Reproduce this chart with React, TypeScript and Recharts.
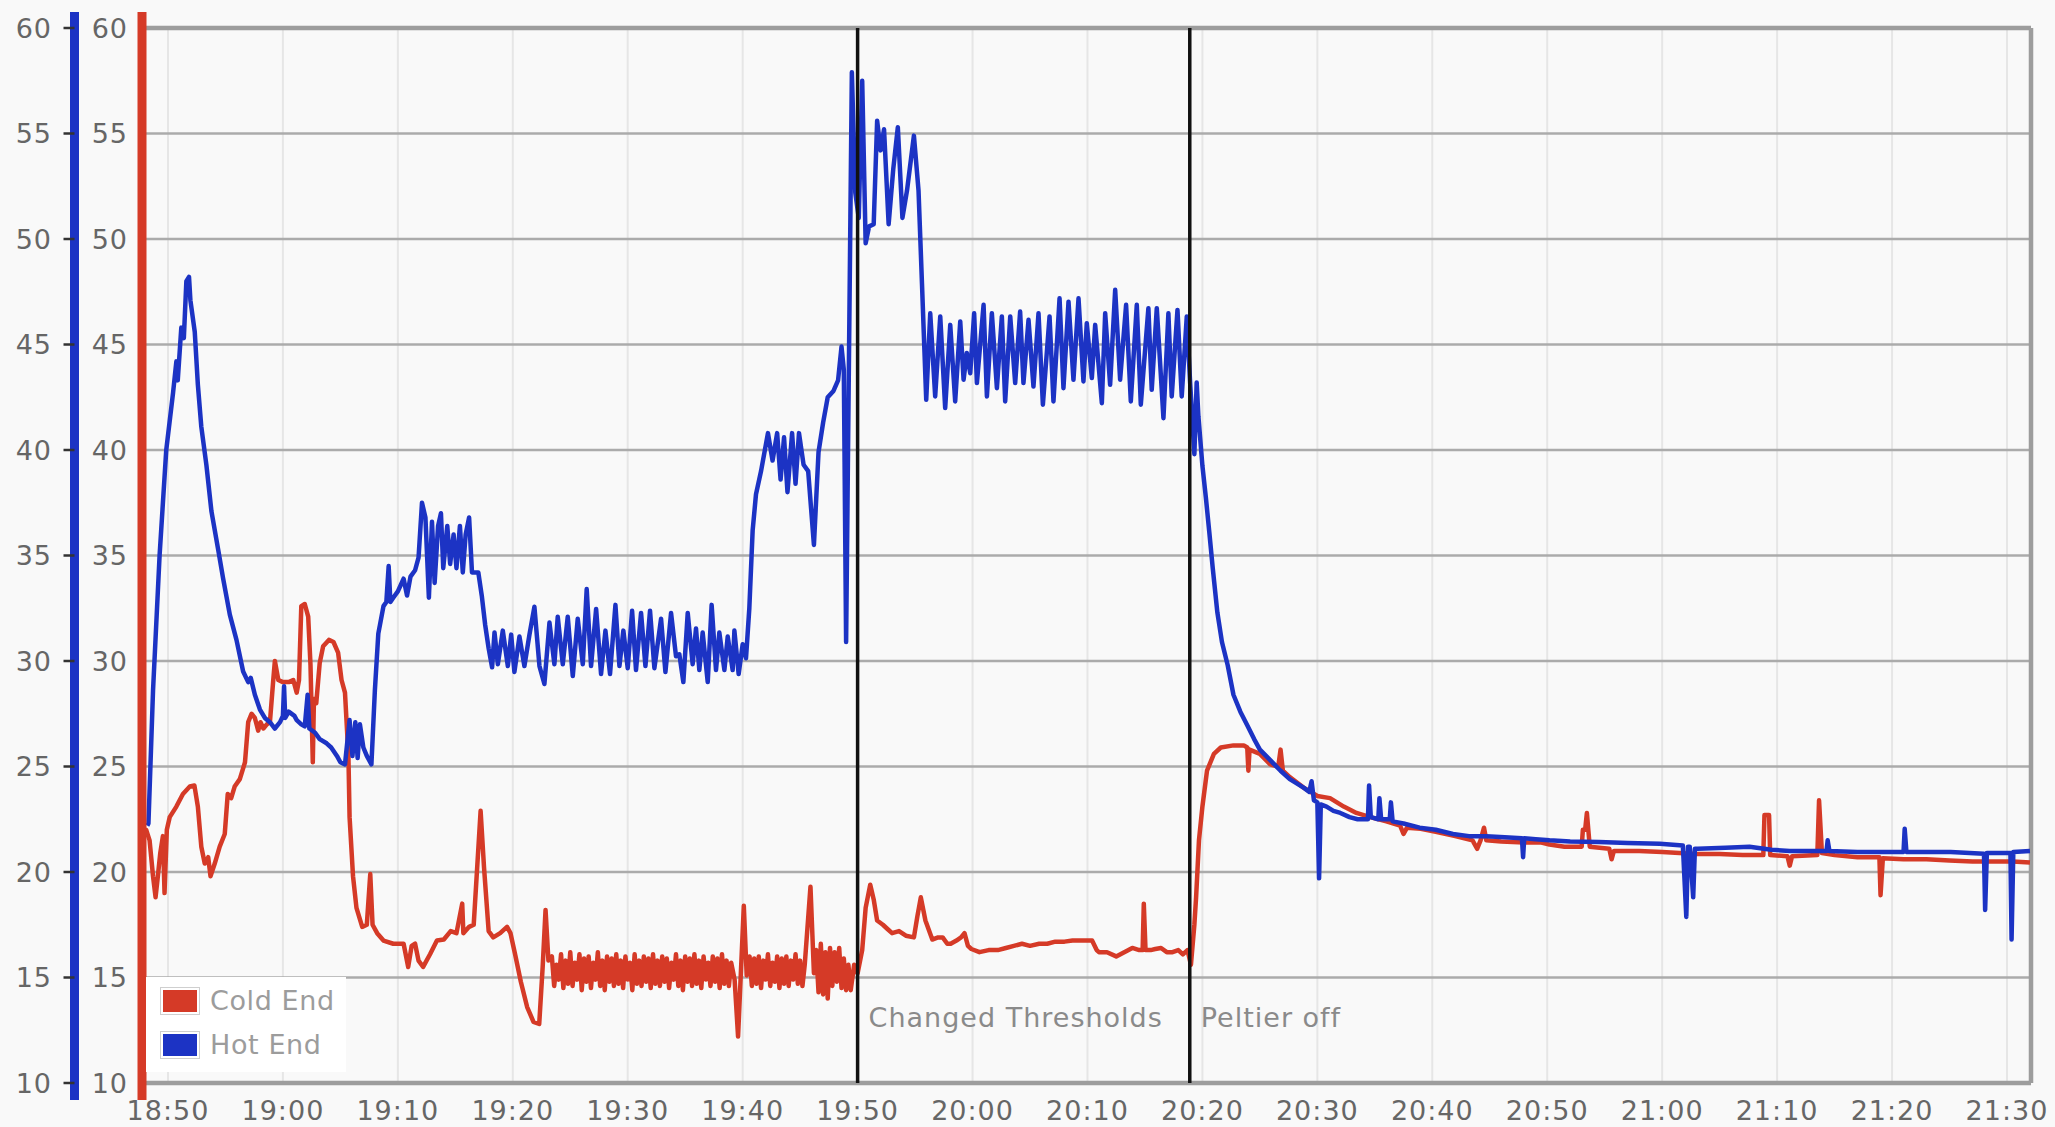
import React from 'react';
import { LineChart, Line, XAxis, YAxis, ReferenceLine, Legend } from 'recharts';

if (typeof document !== 'undefined') {
  document.body.style.margin = '0';
  document.body.style.background = '#f9f9f9';
  document.body.style.overflow = 'hidden';
}

// ---- data (time = minutes after 18:50, value in °C) ----
const START_LABEL = '18:50';

const xTickLabels = ['18:50', '19:00', '19:10', '19:20', '19:30', '19:40', '19:50', '20:00', '20:10', '20:20', '20:30', '20:40', '20:50', '21:00', '21:10', '21:20', '21:30'];
const yTicks = [10, 15, 20, 25, 30, 35, 40, 45, 50, 55, 60];

const seriesNames = ['Cold End', 'Hot End'];

const coldEnd: [number, number][] = [
  [-2.0, 21.8], [-1.9, 22.0], [-1.6, 21.5], [-1.3, 19.8], [-1.08, 18.8], [-0.88, 19.8], [-0.67, 20.9], [-0.44, 21.7], [-0.3, 19.0], [-0.1, 22.0],
  [0.15, 22.6], [0.73, 23.1], [1.3, 23.7], [1.9, 24.05], [2.3, 24.1], [2.6, 23.1], [2.9, 21.2], [3.2, 20.4], [3.5, 20.7], [3.7, 19.8],
  [4.07, 20.4], [4.5, 21.2], [4.94, 21.8], [5.2, 23.7], [5.5, 23.5], [5.8, 24.05], [6.25, 24.4], [6.7, 25.2], [6.98, 27.1], [7.27, 27.5],
  [7.56, 27.3], [7.85, 26.7], [8.05, 27.1], [8.3, 26.8], [8.6, 27.0], [8.87, 27.1], [9.16, 29.1], [9.3, 30.0], [9.6, 29.1], [10.0, 29.0],
  [10.5, 29.0], [10.9, 29.1], [11.2, 28.5], [11.4, 29.1], [11.6, 32.6], [11.9, 32.7], [12.2, 32.1], [12.4, 29.8], [12.6, 25.2], [12.7, 28.2],
  [12.9, 28.0], [13.2, 29.9], [13.5, 30.7], [14.0, 31.0], [14.4, 30.9], [14.8, 30.4], [15.1, 29.1], [15.4, 28.5], [15.7, 25.5], [15.8, 22.6],
  [16.1, 19.8], [16.4, 18.3], [16.9, 17.4], [17.3, 17.5], [17.6, 19.9], [17.8, 17.5], [18.2, 17.1], [18.75, 16.75], [19.6, 16.6], [20.5, 16.6],
  [20.9, 15.5], [21.2, 16.5], [21.5, 16.6], [21.8, 15.8], [22.2, 15.5], [22.8, 16.1], [23.4, 16.75], [24.0, 16.8], [24.6, 17.2], [25.1, 17.1],
  [25.6, 18.5], [25.7, 17.1], [26.2, 17.4], [26.6, 17.5], [26.9, 20.2], [27.2, 22.9], [27.5, 20.2], [27.9, 17.2], [28.3, 16.9], [28.9, 17.1],
  [29.5, 17.4], [29.8, 17.1], [30.2, 16.1], [30.7, 14.8], [31.25, 13.6], [31.8, 12.9], [32.3, 12.8], [32.6, 15.5], [32.85, 18.2], [33.1, 15.8],
  [33.4, 16.0], [33.6, 14.6], [33.8, 15.6], [34.0, 14.9], [34.2, 16.1], [34.4, 14.5], [34.6, 15.8], [34.8, 14.7], [35.0, 16.2], [35.2, 14.6],
  [35.4, 15.7], [35.6, 14.9], [35.8, 16.1], [36.0, 14.4], [36.2, 15.9], [36.4, 14.8], [36.6, 16.0], [36.8, 14.5], [37.0, 15.7], [37.2, 14.9],
  [37.4, 16.2], [37.6, 14.6], [37.8, 15.8], [38.0, 14.4], [38.2, 16.0], [38.4, 14.8], [38.6, 15.9], [38.8, 14.6], [39.0, 16.1], [39.2, 14.7],
  [39.4, 15.8], [39.6, 14.5], [39.8, 16.0], [40.0, 14.9], [40.2, 15.7], [40.4, 14.4], [40.6, 16.1], [40.8, 14.7], [41.0, 15.8], [41.2, 14.6],
  [41.4, 16.0], [41.6, 14.8], [41.8, 15.9], [42.0, 14.5], [42.2, 16.1], [42.4, 14.7], [42.6, 15.8], [42.8, 14.6], [43.0, 16.0], [43.2, 14.8],
  [43.4, 15.9], [43.6, 14.5], [43.8, 15.7], [44.0, 14.9], [44.2, 16.1], [44.4, 14.6], [44.6, 15.8], [44.8, 14.4], [45.0, 16.0], [45.2, 14.8],
  [45.4, 15.9], [45.6, 14.6], [45.8, 16.1], [46.0, 14.7], [46.2, 15.8], [46.4, 14.5], [46.6, 16.0], [46.8, 14.9], [47.0, 15.7], [47.2, 14.6],
  [47.4, 16.0], [47.6, 14.8], [47.8, 15.9], [48.0, 14.5], [48.2, 16.1], [48.4, 14.7], [48.6, 15.8], [48.8, 14.6], [49.0, 15.7], [49.3, 14.9],
  [49.6, 12.2], [50.1, 18.4], [50.35, 15.1], [50.6, 16.0], [50.8, 14.6], [51.0, 15.9], [51.2, 14.7], [51.4, 16.0], [51.6, 14.5], [51.8, 15.8],
  [52.0, 14.9], [52.2, 16.1], [52.4, 14.6], [52.6, 15.7], [52.8, 14.8], [53.0, 16.0], [53.2, 14.5], [53.4, 15.9], [53.6, 14.7], [53.8, 16.0],
  [54.0, 14.6], [54.2, 15.8], [54.4, 14.9], [54.6, 16.1], [54.8, 14.7], [55.0, 15.8], [55.2, 14.6], [55.4, 15.6], [55.9, 19.3], [56.2, 15.2],
  [56.4, 16.3], [56.6, 14.3], [56.8, 16.6], [57.0, 14.2], [57.2, 16.2], [57.4, 14.0], [57.6, 16.4], [57.8, 14.6], [58.0, 16.2], [58.2, 14.8],
  [58.4, 16.4], [58.6, 14.5], [58.8, 15.9], [59.0, 14.4], [59.2, 15.6], [59.4, 14.4], [59.7, 15.6], [60.0, 15.2], [60.4, 16.3], [60.7, 18.3],
  [61.1, 19.4], [61.4, 18.7], [61.7, 17.7], [62.2, 17.5], [62.6, 17.3], [63.0, 17.1], [63.6, 17.2], [64.2, 16.98], [64.9, 16.9], [65.2, 17.9],
  [65.5, 18.8], [65.9, 17.7], [66.5, 16.8], [67.0, 16.9], [67.4, 16.9], [67.8, 16.6], [68.1, 16.6], [68.6, 16.75], [69.0, 16.9], [69.3, 17.1],
  [69.6, 16.5], [69.9, 16.35], [70.6, 16.2], [71.4, 16.3], [72.2, 16.3], [72.9, 16.4], [73.6, 16.5], [74.3, 16.6], [75.0, 16.5], [75.8, 16.6],
  [76.5, 16.6], [77.2, 16.7], [78.0, 16.7], [78.7, 16.75], [79.5, 16.75], [80.4, 16.75], [80.8, 16.3], [81.0, 16.2], [81.7, 16.2], [82.5, 16.0],
  [83.2, 16.2], [83.9, 16.4], [84.5, 16.3], [84.8, 16.3], [84.9, 18.5], [85.05, 16.3], [85.5, 16.3], [85.9, 16.35], [86.4, 16.4], [86.9, 16.2],
  [87.4, 16.2], [87.9, 16.3], [88.3, 16.1], [88.7, 16.3], [89.0, 15.6], [89.3, 17.5], [89.45, 18.8], [89.7, 21.5], [90.0, 23.1], [90.4, 24.8],
  [91.0, 25.6], [91.6, 25.9], [92.7, 26.0], [93.6, 26.0], [93.9, 25.9], [94.0, 24.8], [94.1, 25.8], [95.0, 25.6], [95.9, 25.1], [96.6, 25.0],
  [96.8, 25.8], [97.0, 24.8], [97.6, 24.5], [98.8, 24.0], [100.0, 23.6], [101.1, 23.5], [102.3, 23.1], [103.4, 22.8], [104.6, 22.6], [106.0, 22.4],
  [107.2, 22.2], [107.5, 21.8], [107.8, 22.1], [109.0, 22.05], [110.3, 21.9], [112.0, 21.7], [113.5, 21.5], [113.9, 21.1], [114.2, 21.5], [114.5, 22.1],
  [114.7, 21.5], [116.0, 21.45], [118.0, 21.4], [119.5, 21.4], [120.2, 21.3], [121.5, 21.2], [123.0, 21.2], [123.1, 22.0], [123.3, 22.0], [123.45, 22.8],
  [123.7, 21.2], [125.4, 21.1], [125.6, 20.6], [125.8, 21.0], [128.0, 21.0], [130.0, 20.95], [131.5, 20.9], [133.0, 20.85], [135.0, 20.85], [137.0, 20.8],
  [138.8, 20.8], [138.9, 22.7], [139.3, 22.7], [139.4, 20.8], [140.9, 20.75], [141.1, 20.3], [141.3, 20.75], [143.5, 20.8], [143.65, 23.4], [143.9, 20.9],
  [145.0, 20.8], [147.0, 20.7], [148.9, 20.7], [149.0, 18.9], [149.2, 20.65], [151.0, 20.6], [153.0, 20.6], [155.0, 20.55], [157.0, 20.5], [159.0, 20.5],
  [160.5, 20.5], [162.0, 20.45],
];

const hotEnd: [number, number][] = [
  [-1.8, 22.2], [-1.7, 22.3], [-1.3, 28.6], [-0.73, 35.0], [-0.15, 40.0], [0.44, 42.7], [0.73, 44.2], [0.85, 43.3], [1.16, 45.8], [1.38, 45.3],
  [1.6, 48.0], [1.83, 48.2], [1.95, 47.1], [2.33, 45.6], [2.6, 43.1], [2.9, 41.1], [3.34, 39.3], [3.78, 37.1], [4.36, 35.3], [4.8, 33.9],
  [5.38, 32.2], [5.96, 31.0], [6.54, 29.5], [6.98, 29.0], [7.2, 29.2], [7.56, 28.4], [8.0, 27.7], [8.43, 27.3], [8.87, 27.1], [9.3, 26.8],
  [9.75, 27.1], [10.0, 27.4], [10.1, 28.8], [10.2, 27.3], [10.5, 27.6], [11.0, 27.4], [11.2, 27.2], [11.6, 27.0], [11.9, 26.9], [12.15, 28.4],
  [12.3, 26.8], [12.8, 26.6], [13.2, 26.3], [13.8, 26.1], [14.2, 25.9], [14.7, 25.5], [15.0, 25.2], [15.4, 25.1], [15.8, 27.2], [16.05, 25.5],
  [16.3, 27.1], [16.5, 25.4], [16.7, 27.0], [17.0, 25.9], [17.3, 25.5], [17.7, 25.1], [18.0, 28.6], [18.3, 31.3], [18.75, 32.6], [19.0, 32.8],
  [19.2, 34.5], [19.35, 32.8], [19.6, 33.0], [20.0, 33.3], [20.5, 33.9], [20.8, 33.1], [21.1, 34.0], [21.5, 34.3], [21.8, 34.9], [22.1, 37.5],
  [22.4, 36.8], [22.7, 33.0], [22.97, 36.6], [23.2, 33.7], [23.5, 36.4], [23.75, 37.0], [23.95, 34.4], [24.3, 36.4], [24.55, 34.6], [24.85, 36.0],
  [25.1, 34.4], [25.4, 36.4], [25.65, 34.2], [25.9, 36.0], [26.2, 36.8], [26.45, 34.2], [27.0, 34.2], [27.3, 33.1], [27.6, 31.7], [27.9, 30.6],
  [28.2, 29.7], [28.41, 31.35], [28.7, 29.85], [29.13, 31.44], [29.57, 29.76], [29.86, 31.25], [30.14, 29.48], [30.58, 31.16], [31.01, 29.76], [31.45, 31.25],
  [31.88, 32.57], [32.32, 29.76], [32.75, 28.91], [33.19, 31.82], [33.62, 29.85], [33.91, 32.1], [34.35, 29.85], [34.78, 32.1], [35.22, 29.29], [35.65, 32.0],
  [36.09, 29.85], [36.43, 33.41], [36.81, 29.76], [37.25, 32.47], [37.68, 29.38], [38.06, 31.44], [38.46, 29.38], [38.93, 32.66], [39.28, 29.76], [39.62, 31.44],
  [40.0, 29.66], [40.38, 32.38], [40.72, 29.57], [41.16, 32.28], [41.54, 29.76], [41.94, 32.38], [42.32, 29.66], [42.9, 32.0], [43.28, 29.48], [43.77, 32.28],
  [44.2, 30.22], [44.49, 30.32], [44.84, 29.0], [45.22, 32.28], [45.65, 29.85], [45.94, 31.54], [46.23, 29.57], [46.52, 31.35], [46.96, 29.0], [47.3, 32.66],
  [47.68, 29.57], [47.97, 31.35], [48.41, 29.57], [48.7, 31.16], [49.13, 29.57], [49.28, 31.44], [49.65, 29.38], [50.0, 30.79], [50.29, 30.13], [50.58, 32.5],
  [50.87, 36.2], [51.16, 37.9], [51.6, 39.0], [52.2, 40.8], [52.6, 39.5], [53.0, 40.8], [53.3, 38.6], [53.6, 40.6], [53.9, 38.0], [54.3, 40.8],
  [54.6, 38.4], [54.9, 40.8], [55.3, 39.3], [55.7, 39.0], [56.2, 35.5], [56.6, 39.9], [57.0, 41.3], [57.4, 42.5], [57.9, 42.8], [58.3, 43.3],
  [58.6, 44.9], [58.8, 43.8], [59.0, 30.9], [59.5, 57.9], [59.8, 52.2], [60.1, 51.0], [60.4, 57.5], [60.7, 49.8], [61.0, 50.6], [61.4, 50.7],
  [61.7, 55.6], [62.0, 54.2], [62.3, 55.2], [62.7, 50.7], [63.1, 53.3], [63.5, 55.3], [63.9, 51.0], [64.3, 52.3], [64.9, 54.9], [65.3, 52.3],
  [65.6, 47.9], [65.97, 42.38], [66.32, 46.48], [66.75, 42.54], [67.19, 46.33], [67.62, 41.99], [68.06, 45.93], [68.49, 42.3], [68.93, 46.09], [69.22, 43.33],
  [69.5, 44.6], [69.8, 43.64], [70.14, 46.48], [70.38, 43.17], [70.96, 46.88], [71.25, 42.54], [71.68, 46.48], [72.12, 42.93], [72.55, 46.33], [72.84, 42.3],
  [73.28, 46.33], [73.71, 43.17], [74.14, 46.56], [74.43, 43.17], [74.87, 46.17], [75.3, 43.01], [75.74, 46.48], [76.12, 42.15], [76.7, 46.33], [77.04, 42.3],
  [77.57, 47.19], [77.91, 42.93], [78.35, 47.03], [78.78, 43.33], [79.22, 47.19], [79.65, 43.25], [79.94, 46.01], [80.38, 43.41], [80.67, 45.93], [81.25, 42.22],
  [81.54, 46.48], [81.97, 43.09], [82.41, 47.59], [82.84, 43.33], [83.36, 46.88], [83.77, 42.3], [84.29, 46.88], [84.64, 42.15], [85.3, 46.72], [85.59, 42.85],
  [86.03, 46.72], [86.61, 41.51], [87.04, 46.48], [87.33, 42.54], [87.83, 46.64], [88.2, 42.54], [88.64, 46.33], [88.93, 43.2], [89.3, 39.8], [89.5, 43.2],
  [89.65, 41.6], [89.8, 40.6], [90.0, 39.25], [90.3, 37.75], [90.6, 36.1], [90.9, 34.4], [91.3, 32.3], [91.7, 30.9], [92.2, 29.8], [92.7, 28.4],
  [93.3, 27.6], [93.9, 26.95], [94.5, 26.3], [95.0, 25.8], [95.9, 25.3], [96.8, 24.8], [97.6, 24.4], [98.8, 24.0], [99.3, 23.8], [99.5, 24.3],
  [99.7, 23.4], [100.0, 23.3], [100.15, 19.7], [100.3, 23.2], [100.8, 23.1], [101.4, 22.9], [102.0, 22.8], [102.8, 22.6], [103.5, 22.5], [104.4, 22.5],
  [104.5, 24.1], [104.65, 22.6], [105.3, 22.5], [105.4, 23.5], [105.55, 22.5], [106.3, 22.5], [106.4, 23.3], [106.55, 22.4], [107.5, 22.3], [108.9, 22.1],
  [110.3, 22.0], [111.8, 21.8], [113.2, 21.7], [114.7, 21.7], [116.3, 21.65], [117.8, 21.6], [117.9, 20.7], [118.0, 21.6], [119.0, 21.55], [120.2, 21.5],
  [122.0, 21.45], [124.5, 21.42], [127.0, 21.38], [129.8, 21.34], [131.8, 21.26], [132.1, 17.87], [132.25, 21.2], [132.4, 21.2], [132.7, 18.8], [132.85, 21.1],
  [133.1, 21.1], [135.5, 21.15], [137.6, 21.2], [139.5, 21.05], [141.1, 21.0], [144.3, 21.0], [144.4, 21.5], [144.55, 21.0], [147.0, 20.95], [149.2, 20.95],
  [151.0, 20.95], [151.1, 22.05], [151.25, 20.95], [153.0, 20.95], [155.1, 20.95], [158.0, 20.87], [158.1, 18.2], [158.25, 20.9], [160.3, 20.9], [160.4, 16.8],
  [160.55, 20.95], [162.0, 21.0],
];

// event markers (minutes after 18:50)
const eventTimes = [60.0, 88.9];
const eventLabels = ['Changed Thresholds', 'Peltier off'];

// x-range shown (minutes after 18:50)
const xRange = [-2.26, 162.09];

// ---- helpers ----
const toMin = (s: string) => {
  const [h, m] = s.split(':').map(Number);
  return h * 60 + m;
};
const base = toMin(START_LABEL);
const xTicks = xTickLabels.map(toMin);
const fmt = (t: number) => {
  const h = Math.floor(t / 60);
  const m = Math.round(t - h * 60);
  return `${h}:${m < 10 ? '0' + m : m}`;
};
const toRows = (arr: [number, number][]) => arr.map(([m, v]) => ({ t: base + m, v }));
const coldData = toRows(coldEnd);
const hotData = toRows(hotEnd);
const xDomain = [base + xRange[0], base + xRange[1]];
const yMin = yTicks[0];
const yMax = yTicks[yTicks.length - 1];

const COLD = '#d53a27';
const HOT = '#1c33c4';
const FONT = 'DejaVu Sans, Verdana, sans-serif';
const tickStyle = { fill: '#666', fontSize: 27, fontFamily: FONT, letterSpacing: 1 };

const makeEventLabel = (text: string) => (props: any) => {
  const vb = props.viewBox || {};
  return (
    <text x={vb.x + 11} y={vb.y + vb.height - 56} fill="#8a8a8a" fontSize={27} letterSpacing={1} fontFamily={FONT}>
      {text}
    </text>
  );
};

const renderLegend = (props: any) => {
  const items = (props.payload || []) as any[];
  return (
    <div style={{ background: '#ffffff', width: 200, height: 95, boxSizing: 'border-box', paddingTop: 2, paddingLeft: 15, fontFamily: FONT, fontSize: 27, letterSpacing: 0.6, color: '#9c9c9c' }}>
      {items.map((it) => (
        <div key={it.value} style={{ display: 'flex', alignItems: 'center', height: 44 }}>
          <span style={{ display: 'inline-block', width: 34, height: 22, background: it.color, border: '2px solid #fff', outline: '1px solid #cfcfcf', marginRight: 11 }} />
          <span style={{ lineHeight: '30px', whiteSpace: 'nowrap' }}>{it.value}</span>
        </div>
      ))}
    </div>
  );
};

export default function App() {
  return (
    <div style={{ width: 2055, height: 1127, background: '#f9f9f9' }}>
      <LineChart width={2055} height={1127} margin={{ top: 12, right: 24, bottom: 0, left: 0 }}>
        {xTicks.map((t) => (
          <ReferenceLine
            key={'vg' + t}
            yAxisId="cold"
            segment={[{ x: t, y: yMin }, { x: t, y: yMax }]}
            stroke="#e6e6e6"
            strokeWidth={2}
          />
        ))}
        {yTicks.map((v) => (
          <ReferenceLine key={'hg' + v} yAxisId="cold" y={v} stroke="#ababab" strokeWidth={2.5} />
        ))}
        <XAxis
          type="number"
          dataKey="t"
          domain={xDomain}
          allowDataOverflow
          ticks={xTicks}
          interval={0}
          tickFormatter={fmt}
          axisLine={false}
          tickLine={false}
          tickSize={0}
          tickMargin={1}
          height={27}
          tick={tickStyle}
        />
        <YAxis
          yAxisId="cold"
          orientation="left"
          width={67.5}
          domain={[yMin, yMax]}
          ticks={yTicks}
          interval={0}
          padding={{ top: 16, bottom: 17 }}
          axisLine={{ stroke: COLD, strokeWidth: 9 }}
          tickLine={false}
          tickSize={0}
          tickMargin={14}
          tick={tickStyle}
        />
        <YAxis
          yAxisId="hot"
          orientation="left"
          width={74.5}
          domain={[yMin, yMax]}
          ticks={yTicks}
          interval={0}
          padding={{ top: 16, bottom: 17 }}
          axisLine={{ stroke: HOT, strokeWidth: 9 }}
          tickLine={{ stroke: '#333', strokeWidth: 2.5 }}
          tickSize={11}
          tickMargin={11.5}
          tick={tickStyle}
        />
        <ReferenceLine yAxisId="cold" y={yMax} stroke="#9d9d9d" strokeWidth={4.5} />
        <ReferenceLine yAxisId="cold" y={yMin} stroke="#9d9d9d" strokeWidth={4.5} />
        <ReferenceLine
          yAxisId="cold"
          segment={[{ x: xDomain[1], y: yMin }, { x: xDomain[1], y: yMax }]}
          stroke="#9d9d9d"
          strokeWidth={4.5}
        />
        <Line yAxisId="cold" data={coldData} dataKey="v" name={seriesNames[0]} type="linear" stroke={COLD} strokeWidth={4.5} strokeLinejoin="round" dot={false} activeDot={false} isAnimationActive={false} />
        <Line yAxisId="hot" data={hotData} dataKey="v" name={seriesNames[1]} type="linear" stroke={HOT} strokeWidth={4.5} strokeLinejoin="round" dot={false} activeDot={false} isAnimationActive={false} />
        {eventTimes.map((m, i) => (
          <ReferenceLine
            key={eventLabels[i]}
            yAxisId="cold"
            segment={[{ x: base + m, y: yMin }, { x: base + m, y: yMax }]}
            stroke="#111"
            strokeWidth={3.5}
            label={makeEventLabel(eventLabels[i])}
          />
        ))}
        <Legend
          layout="vertical"
          align="center"
          verticalAlign="middle"
          wrapperStyle={{ left: 146, top: 977, width: 200, height: 95 }}
          content={renderLegend}
        />
      </LineChart>
    </div>
  );
}
